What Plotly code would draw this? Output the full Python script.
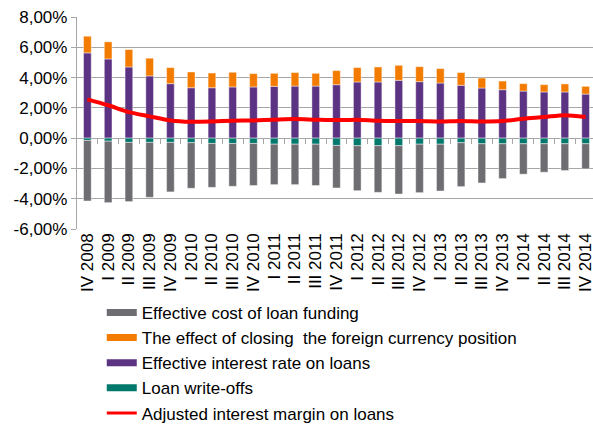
import plotly.graph_objects as go

categories = ["IV 2008", "I 2009", "II 2009", "III 2009", "IV 2009",
              "I 2010", "II 2010", "III 2010", "IV 2010",
              "I 2011", "II 2011", "III 2011", "IV 2011",
              "I 2012", "II 2012", "III 2012", "IV 2012",
              "I 2013", "II 2013", "III 2013", "IV 2013",
              "I 2014", "II 2014", "III 2014", "IV 2014"]

# Effective interest rate on loans (purple)
interest_rate = [5.63, 5.23, 4.70, 4.11, 3.60, 3.33, 3.33, 3.38, 3.38, 3.42, 3.44, 3.44, 3.53,
                 3.71, 3.71, 3.82, 3.73, 3.64, 3.49, 3.31, 3.20, 3.11, 3.05, 3.05, 2.91]
# The effect of closing the foreign currency position (orange)
fx_effect = [1.10, 1.13, 1.15, 1.17, 1.06, 1.04, 0.97, 0.97, 0.88, 0.86, 0.89, 0.84, 0.93,
             0.95, 0.99, 0.99, 0.99, 0.95, 0.84, 0.66, 0.57, 0.49, 0.48, 0.53, 0.51]
# Loan write-offs (teal)
write_offs = [-0.15, -0.20, -0.28, -0.28, -0.28, -0.30, -0.35, -0.35, -0.35, -0.40, -0.40, -0.40, -0.48,
              -0.50, -0.50, -0.50, -0.40, -0.40, -0.30, -0.37, -0.37, -0.37, -0.37, -0.37, -0.37]
# Effective cost of loan funding (gray)
funding_cost = [-4.00, -4.06, -3.91, -3.63, -3.27, -3.01, -2.90, -2.83, -2.78, -2.67, -2.67, -2.73, -2.81,
                -2.97, -3.08, -3.19, -3.20, -3.09, -2.90, -2.59, -2.30, -2.01, -1.88, -1.77, -1.66]
# Adjusted interest margin on loans (red line)
margin = [2.56, 2.17, 1.72, 1.44, 1.17, 1.08, 1.10, 1.15, 1.17, 1.22, 1.26, 1.22, 1.19,
          1.22, 1.15, 1.13, 1.13, 1.10, 1.13, 1.10, 1.13, 1.28, 1.39, 1.52, 1.39]

y_ticks = [8, 6, 4, 2, 0, -2, -4, -6]
y_ticktext = [f"{v:.2f}".replace(".", ",") + "%" for v in y_ticks]

C_GRAY = "#6E6D72"
C_ORANGE = "#F27B00"
C_PURPLE = "#5C3282"
C_TEAL = "#00786C"
C_RED = "#FF0000"
FONT = "Liberation Sans, Arial, sans-serif"

fig = go.Figure()
edge = dict(color="rgba(255,255,255,0.55)", width=0.8)
bw = 0.37
fig.add_trace(go.Bar(x=categories, y=interest_rate, marker=dict(color=C_PURPLE, line=edge),
                     width=bw, showlegend=False))
fig.add_trace(go.Bar(x=categories, y=fx_effect, marker=dict(color=C_ORANGE, line=edge),
                     width=bw, showlegend=False))
fig.add_trace(go.Bar(x=categories, y=write_offs, marker=dict(color=C_TEAL, line=edge),
                     width=bw, showlegend=False))
fig.add_trace(go.Bar(x=categories, y=funding_cost, marker=dict(color=C_GRAY, line=edge),
                     width=bw, showlegend=False))
fig.add_trace(go.Scatter(x=categories, y=margin, mode="lines",
                         line=dict(color=C_RED, width=4, shape="spline", smoothing=0.8),
                         showlegend=False))

legend_items = [("Effective cost of loan funding", C_GRAY, 7),
                ("The effect of closing  the foreign currency position", C_ORANGE, 7),
                ("Effective interest rate on loans", C_PURPLE, 7),
                ("Loan write-offs", C_TEAL, 7),
                ("Adjusted interest margin on loans", C_RED, 3)]
for name, col, w in legend_items:
    fig.add_trace(go.Scatter(x=[None], y=[None], mode="lines", name=name,
                             line=dict(color=col, width=w), xaxis="x2", showlegend=True))

n = len(categories)
xr = [-0.5, n - 0.5 - 0.145]
grid_c = "#A6A6A6"
fig.update_layout(
    width=593, height=424,
    margin=dict(l=77, r=0, t=17, b=195, autoexpand=False),
    barmode="relative",
    bargap=0.6,
    plot_bgcolor="white", paper_bgcolor="white",
    font=dict(family=FONT, size=17, color="#000000"),
    xaxis=dict(type="category", range=xr, tickangle=-90, showgrid=False,
               showline=False, ticks="", tickfont=dict(size=17), automargin=False),
    xaxis2=dict(overlaying="x", anchor="free", position=6 / 14, range=xr,
                tickmode="array", tickvals=[i + 0.5 for i in range(n - 1)],
                ticks="outside", ticklen=5, tickcolor=grid_c, tickwidth=1,
                showticklabels=False, showgrid=False, showline=False, zeroline=False),
    yaxis=dict(range=[-6, 8], tickmode="array", tickvals=y_ticks, ticktext=y_ticktext,
               showgrid=True, gridcolor=grid_c, gridwidth=1.3, zeroline=False,
               showline=True, linecolor=grid_c, linewidth=1.3,
               ticks="outside", ticklen=5, tickcolor=grid_c, tickwidth=1.3,
               tickfont=dict(size=17), automargin=False),
    legend=dict(x=0.048, xanchor="left", y=-0.311, yanchor="top",
                font=dict(size=17), bgcolor="rgba(0,0,0,0)", tracegroupgap=0),
    showlegend=True,
)

fig.write_html("out.html")
